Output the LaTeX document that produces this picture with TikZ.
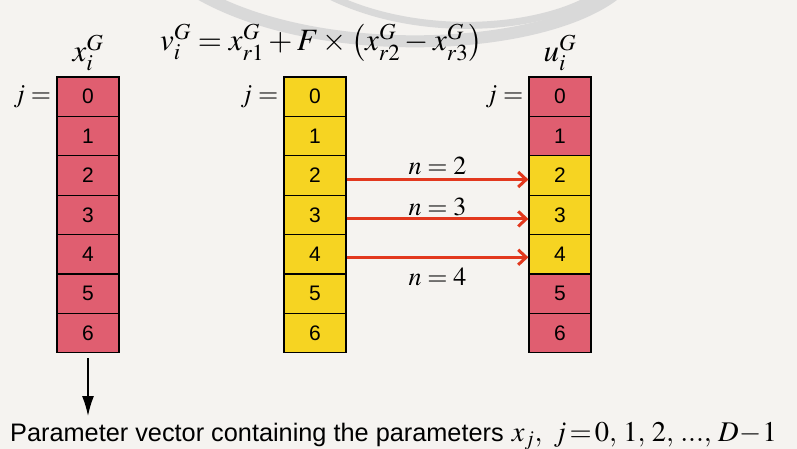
\documentclass[tikz,border=0pt]{standalone}
\usepackage{mathptmx}
\usepackage[no-math]{fontspec}
\setmainfont{Liberation Serif}
\setsansfont{Liberation Sans}
\usetikzlibrary{arrows.meta,positioning}
\definecolor{cellred}{RGB}{224,94,112}
\definecolor{cellyellow}{RGB}{246,212,34}
\definecolor{arrowred}{RGB}{226,56,30}
\definecolor{paper}{RGB}{245,243,240}

\begin{document}
\begin{tikzpicture}[x=1pt, y=-1pt,
    cell/.style={draw, line width=1.2pt, minimum width=62pt, minimum height=39.4pt, inner sep=0pt, font=\sffamily\fontsize{21}{21}\selectfont},
    redcell/.style={cell, fill=cellred},
    yellowcell/.style={cell, fill=cellyellow},
    mathtext/.style={inner sep=0pt, text=black, font=\fontsize{26}{26}\selectfont},
    bigmath/.style={inner sep=0pt, text=black, font=\fontsize{31}{31}\selectfont},
    mutate/.style={-{Straight Barb[length=8pt,width=15pt]}, arrowred, line width=3pt},
    pointer/.style={-{Latex[length=20pt,width=12pt]}, line width=1.5pt}
]
\fill[paper] (0,0) rectangle (797,449);
\useasboundingbox (0,0) rectangle (797,449);
% faint arcs behind the formula
\draw[gray!30, line width=12pt] (200,-6) .. controls (320,62) and (540,52) .. (615,-6);
\draw[gray!30, line width=7pt] (330,-4) .. controls (420,40) and (540,30) .. (595,-4);

% the three vectors
\foreach \j/\ustyle in {0/redcell,1/redcell,2/yellowcell,3/yellowcell,4/yellowcell,5/redcell,6/redcell} {
  \node[redcell] (x\j) at (88, 96.7+39.4*\j) {\j};
  \node[yellowcell] (v\j) at (315, 96.7+39.4*\j) {\j};
  \node[\ustyle] (u\j) at (560, 96.7+39.4*\j) {\j};
}

\node[bigmath, above=5pt of x0] (xname) {$x_i^G$};
\node[bigmath, above=5pt of u0] (uname) {$u_i^G$};
\node[bigmath, anchor=base west] (formula) at (160,51) {$v_i^G=x_{r1}^G+F\times\left(x_{r2}^G-x_{r3}^G\right)$};

\node[mathtext, left=5pt of x0] (xj) {$j=$};
\node[mathtext, left=5pt of v0] (vj) {$j=$};
\node[mathtext, left=5pt of u0] (uj) {$j=$};

\draw[mutate] ([yshift=-4pt]v2.east) -- node[mathtext, above=3pt] (n2) {$n=2$} ([yshift=-4pt]u2.west);
\draw[mutate] ([yshift=-4pt]v3.east) -- node[mathtext, above=1pt] (n3) {$n=3$} ([yshift=-4pt]u3.west);
\draw[mutate] ([yshift=-3pt]v4.east) -- node[mathtext, below=9pt] (n4) {$n=4$} ([yshift=-3pt]u4.west);

\coordinate (xend) at (88,416);
\draw[pointer, shorten <=5pt] (x6) -- (xend);

\node[anchor=base west, inner sep=0pt, font=\sffamily\fontsize{25.3}{25.3}\selectfont] (caption) at (10,441)
  {Parameter vector containing the parameters\hspace{8pt}{\fontsize{28.5}{28.5}\selectfont$x_j,\ j\!=\!0,\,1,\,2,\,...,\,D\!-\!1$}};
\end{tikzpicture}
\end{document}
